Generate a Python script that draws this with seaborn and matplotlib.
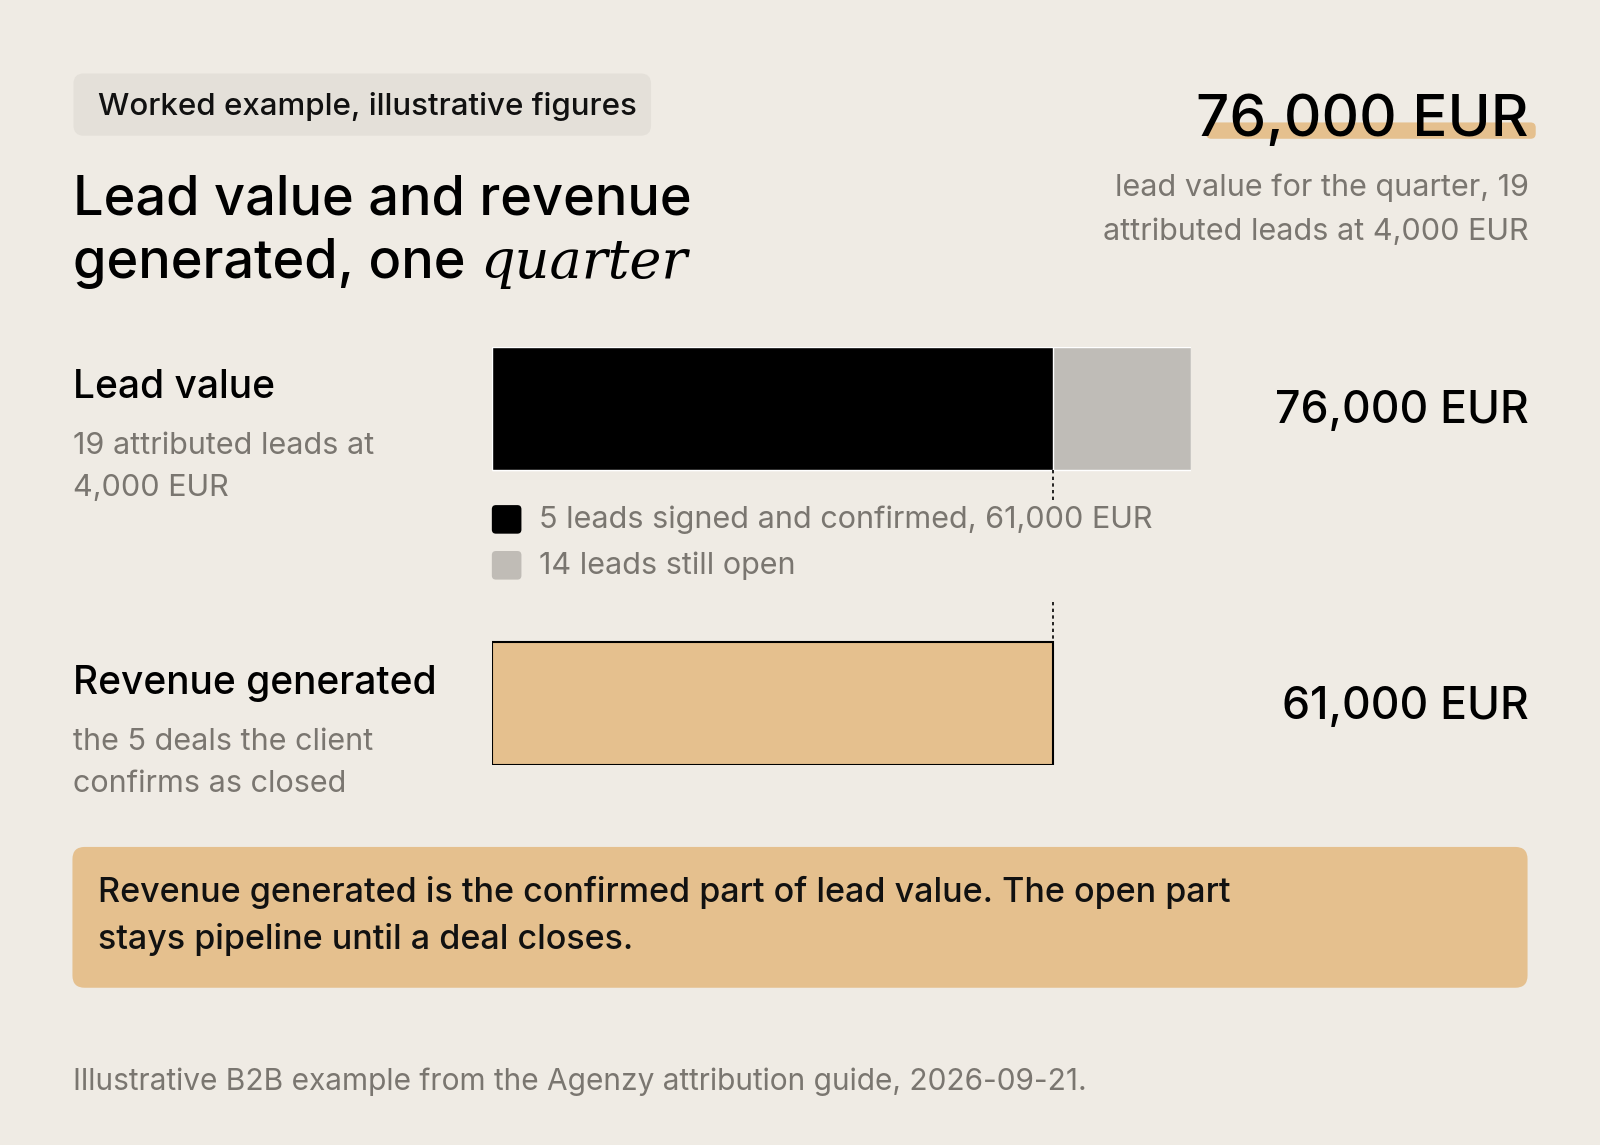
import numpy as np
import pandas as pd
import matplotlib.pyplot as plt
import seaborn as sns
from matplotlib.patches import FancyBboxPatch

sns.set_theme(style="white")
plt.rcParams['font.family'] = ['Inter', 'DejaVu Sans']

lead_value = 76000
confirmed = 61000
rows = ["Lead value", "Revenue generated"]
row_subs = [["19 attributed leads at", "4,000 EUR"], ["the 5 deals the client", "confirms as closed"]]
row_values = ["76,000 EUR", "61,000 EUR"]
legend_labels = ["5 leads signed and confirmed, 61,000 EUR", "14 leads still open"]

BG = "#efebe4"
TAN = "#e5c08e"
GREY = "#c0bcb6"
MUTED = "#7a7670"

W, H = 1600, 1145
S = 1600 / 1568  # layout measured on a 1568-wide view

fig = plt.figure(figsize=(16, 11.45), dpi=100, facecolor=BG)

# overlay axes in (scaled) pixel coordinates
ov = fig.add_axes([0, 0, 1, 1])
ov.set_xlim(0, W / S)
ov.set_ylim(H / S, 0)
ov.axis("off")

# bar axes: x 482..1167, y 340..750
bx0, bx1, by0, by1 = 482 * S, 1167 * S, 340 * S, 750 * S
ax = fig.add_axes([bx0 / W, 1 - by1 / H, (bx1 - bx0) / W, (by1 - by0) / H])
ax.patch.set_alpha(0)
df = pd.DataFrame({"row": rows, "total": [lead_value, confirmed], "part": [confirmed, confirmed]})
sns.barplot(data=df.iloc[:1], y="row", x="total", color=GREY, orient="h", width=1.0, ax=ax)
sns.barplot(data=df.iloc[:1], y="row", x="part", color="black", orient="h", width=1.0, ax=ax)
ax.barh([2.4], [confirmed], height=1.0, color=TAN, edgecolor="black", linewidth=1.5)
ax.set_xlim(0, lead_value)
ax.set_ylim(2.9, -0.5)
ax.axis("off")
ax.vlines(confirmed, 0.5, 0.75, colors="black", linestyles=(0, (2, 2)), linewidth=1.2)
ax.vlines(confirmed, 1.57, 1.9, colors="black", linestyles=(0, (2, 2)), linewidth=1.2)

# badge
ov.add_patch(FancyBboxPatch((72, 72), 566, 61, boxstyle="round,pad=0,rounding_size=10",
                            fc="#e4e0d9", ec="none"))
ov.text(96, 104, "Worked example, illustrative figures", fontsize=22.5, va="center",
        color="#111", fontweight=500)

# title
ov.text(72, 210, "Lead value and revenue", fontsize=39, color="black", va="baseline", fontweight=500)
t = ov.text(72, 272, "generated, one ", fontsize=39, color="black", va="baseline", fontweight=500)
fig.canvas.draw()
bb = t.get_window_extent().transformed(ov.transData.inverted())
ov.text(bb.x1, 272, "quarter", fontsize=39, color="black", va="baseline",
        family="DejaVu Serif", style="italic")

# headline number
ov.add_patch(FancyBboxPatch((1182, 120), 323, 16, boxstyle="round,pad=0,rounding_size=5",
                            fc=TAN, ec="none"))
ov.text(1498, 133, "76,000 EUR", fontsize=42, ha="right", va="baseline", color="black", fontweight=500)
ov.text(1498, 192, "lead value for the quarter, 19", fontsize=22, ha="right", va="baseline", color=MUTED)
ov.text(1498, 235, "attributed leads at 4,000 EUR", fontsize=22, ha="right", va="baseline", color=MUTED)

# row labels
for ytop, name, sub, val in zip([390, 680], rows, row_subs, row_values):
    ov.text(72, ytop, name, fontsize=28, va="baseline", color="black", fontweight=500)
    ov.text(72, ytop + 55, sub[0], fontsize=22, va="baseline", color=MUTED)
    ov.text(72, ytop + 96, sub[1], fontsize=22, va="baseline", color=MUTED)
    ov.text(1498, ytop + 25, val, fontsize=32, ha="right", va="baseline", color="black", fontweight=500)

# legend
for y, col, lab in zip([509, 554], ["black", GREY], legend_labels):
    ov.add_patch(FancyBboxPatch((482, y - 14), 29, 28, boxstyle="round,pad=0,rounding_size=4",
                                fc=col, ec="none"))
    ov.text(528, y, lab, fontsize=22, va="center", color=MUTED)

# callout
ov.add_patch(FancyBboxPatch((71, 830), 1426, 138, boxstyle="round,pad=0,rounding_size=12",
                            fc=TAN, ec="none"))
ov.text(96, 875, "Revenue generated is the confirmed part of lead value. The open part",
        fontsize=24.5, va="center", color="#111", fontweight=500)
ov.text(96, 921, "stays pipeline until a deal closes.", fontsize=24.5, va="center",
        color="#111", fontweight=500)

# footer
ov.text(72, 1060, "Illustrative B2B example from the Agenzy attribution guide, 2026-09-21.",
        fontsize=21.5, va="center", color=MUTED)

fig.savefig("out.png", dpi=100, facecolor=BG)
